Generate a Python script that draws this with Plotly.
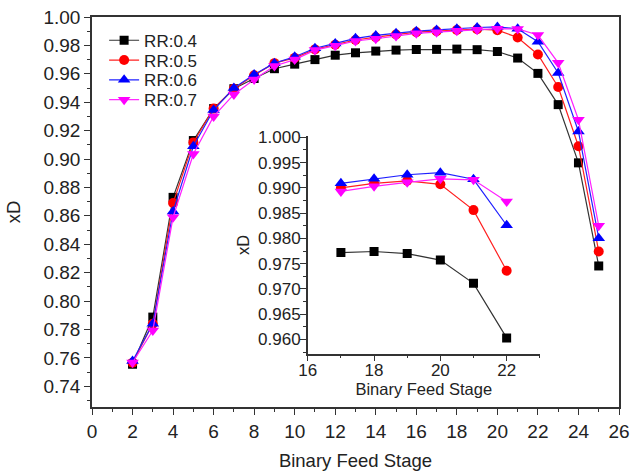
import plotly.graph_objects as go

stages = list(range(2, 26))
rr04 = [0.7555, 0.7887, 0.873, 0.913, 0.9355, 0.9495, 0.9567, 0.9636, 0.9668, 0.9700,
        0.9731, 0.9748, 0.9760, 0.9767, 0.9771, 0.9772, 0.9774, 0.9770, 0.9757, 0.9711,
        0.9603, 0.9383, 0.8973, 0.8247]
rr05 = [0.7565, 0.7840, 0.869, 0.9117, 0.9355, 0.9495, 0.9590, 0.9675, 0.9712, 0.9772,
        0.9805, 0.9838, 0.9858, 0.9877, 0.9893, 0.9900, 0.9909, 0.9914, 0.9907, 0.9856,
        0.9736, 0.9507, 0.9090, 0.8349]
rr06 = [0.7578, 0.7840, 0.863, 0.909, 0.9345, 0.9500, 0.9595, 0.9675, 0.9720, 0.9780,
        0.9814, 0.9850, 0.9870, 0.9885, 0.9900, 0.9909, 0.9918, 0.9926, 0.9930, 0.9917,
        0.9826, 0.9606, 0.9194, 0.8443]
rr07 = [0.7567, 0.7793, 0.859, 0.9035, 0.9300, 0.9455, 0.9560, 0.9655, 0.9700, 0.9767,
        0.9798, 0.9831, 0.9847, 0.9866, 0.9885, 0.9893, 0.9903, 0.9911, 0.9918, 0.9916,
        0.9873, 0.9677, 0.9277, 0.8530]

inset_stages = [17, 18, 19, 20, 21, 22]
in04 = [0.9772, 0.9774, 0.9770, 0.9757, 0.9711, 0.9603]
in05 = [0.9900, 0.9909, 0.9914, 0.9907, 0.9856, 0.9736]
in06 = [0.9909, 0.9918, 0.9926, 0.9930, 0.9917, 0.9826]
in07 = [0.9893, 0.9903, 0.9911, 0.9918, 0.9916, 0.9873]

names = ["RR:0.4", "RR:0.5", "RR:0.6", "RR:0.7"]
colors = ["#000000", "#ff0000", "#0000ff", "#ff00ff"]
line_colors = ["#333333", "#ff2020", "#2020ff", "#ff20ff"]
symbols = ["square", "circle", "triangle-up", "triangle-down"]
sizes = [9, 10, 11, 11]
main_series = [rr04, rr05, rr06, rr07]
inset_series = [in04, in05, in06, in07]
legend_ids = ["legend", "legend2", "legend3", "legend4"]

FONT = "Liberation Sans, Arial, sans-serif"

fig = go.Figure()
for n, c, lc, s, sz, ys, lg in zip(names, colors, line_colors, symbols, sizes, main_series, legend_ids):
    fig.add_trace(go.Scatter(x=stages, y=ys, name=n, mode="lines+markers",
                             line=dict(color=lc, width=1.2),
                             marker=dict(symbol=s, size=sz, color=c),
                             legend=lg, xaxis="x", yaxis="y"))
for n, c, lc, s, sz, ys in zip(names, colors, line_colors, symbols, sizes, inset_series):
    fig.add_trace(go.Scatter(x=inset_stages, y=ys, name=n, mode="lines+markers",
                             line=dict(color=lc, width=1.2),
                             marker=dict(symbol=s, size=sz, color=c),
                             showlegend=False, xaxis="x2", yaxis="y2"))


def axis_common(fs):
    return dict(showgrid=False, zeroline=False, showline=True, linecolor="#333333",
                linewidth=1.5, ticks="outside", ticklen=6, tickwidth=1.2,
                tickcolor="#333333", automargin=False,
                tickfont=dict(size=fs, color="#222222"))


minor_style = dict(ticks="outside", ticklen=3, tickcolor="#333333")

H_PLOT = 476 - 17 - 69
legend_py = [40.7, 60.5, 80.3, 100.1]
legend_layout = {}
for lg, py in zip(legend_ids, legend_py):
    legend_layout[lg] = dict(x=0.023, y=(476 - 69 - py) / H_PLOT, xanchor="left",
                             yanchor="middle", bgcolor="rgba(0,0,0,0)",
                             font=dict(size=17, color="#222222"), itemwidth=30)

fig.update_layout(
    width=630, height=476,
    margin=dict(l=92, r=11, t=17, b=69),
    paper_bgcolor="white", plot_bgcolor="white",
    font=dict(family=FONT, size=16, color="#222222"),
    xaxis=dict(range=[0, 26], dtick=2, tick0=0, mirror=True,
               minor=dict(dtick=1, **minor_style),
               title=dict(text="Binary Feed Stage", font=dict(size=18.5), standoff=14),
               **axis_common(19)),
    yaxis=dict(range=[0.7254, 1.0], dtick=0.02, tick0=0.74, tickformat=".2f", mirror=True,
               minor=dict(dtick=0.01, **minor_style),
               title=dict(text="xD", font=dict(size=18.5), standoff=18),
               **axis_common(19)),
    xaxis2=dict(domain=[0.4094, 0.8497], anchor="y2", range=[16, 23], dtick=2, tick0=16,
                minor=dict(dtick=1, **minor_style), ticklabelstandoff=-6,
                title=dict(text="Binary Feed Stage", font=dict(size=16.5), standoff=4),
                **axis_common(17)),
    yaxis2=dict(domain=[0.137, 0.694], anchor="x2", range=[0.9572, 1.0002], dtick=0.005,
                tick0=0.96, tickformat=".3f", ticklabelstandoff=-4,
                minor=dict(dtick=0.0025, **minor_style),
                title=dict(text="xD", font=dict(size=16.5), standoff=4),
                **axis_common(17)),
    showlegend=True,
    **legend_layout,
)

fig.write_html("out.html", config={"displayModeBar": False},
               post_script="document.body.style.margin='0';document.body.style.overflow='hidden';")
